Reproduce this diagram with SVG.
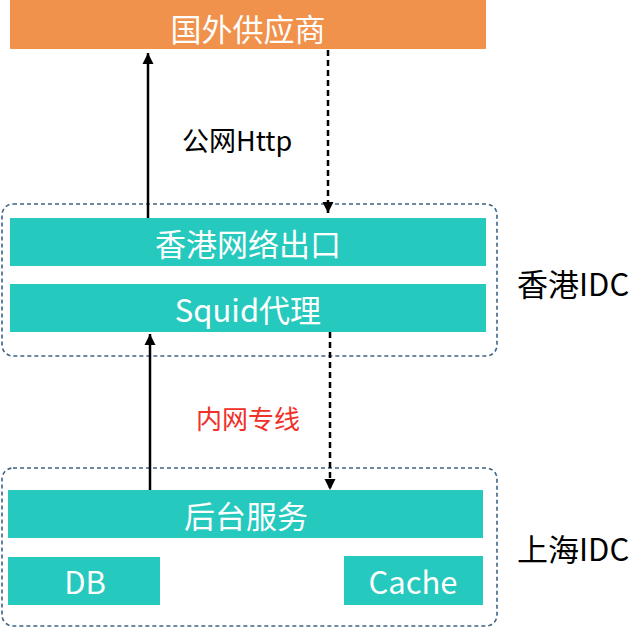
<svg xmlns="http://www.w3.org/2000/svg" width="640" height="628" viewBox="0 0 640 628">
<defs>
<marker id="ah" viewBox="0 0 10 10" refX="10" refY="5" markerWidth="4.4" markerHeight="4.6" orient="auto" markerUnits="strokeWidth"><path d="M0,0 L10,5 L0,10 Z" fill="#000"/></marker>
<style>
.box{fill:#26C9BD}
.org{fill:#F0914C}
.grp{fill:none;stroke:#3E6385;stroke-width:1.6;stroke-dasharray:4 3}
.wt{fill:#fff;font-family:"Noto Sans CJK SC","Noto Sans",sans-serif;font-size:31px;text-anchor:middle;dominant-baseline:central}
.lb{fill:#000;font-family:"Noto Sans CJK SC","Noto Sans",sans-serif;font-size:31px;dominant-baseline:central}
.sol{stroke:#000;stroke-width:2.5;fill:none;marker-end:url(#ah)}
.dsh{stroke:#000;stroke-width:2.5;fill:none;stroke-dasharray:6 4;marker-end:url(#ah)}
</style>
</defs>
<rect width="640" height="628" fill="#fff"/>
<g id="groups">
<rect id="hk-idc" class="grp" x="2" y="204" width="495" height="152" rx="11"/>
<rect id="sh-idc" class="grp" x="2" y="468" width="495" height="158" rx="11"/>
</g>
<g id="supplier"><rect class="org" x="10" y="0" width="476" height="49"/><text class="wt" x="248" y="27">国外供应商</text></g>
<g id="hk-exit"><rect class="box" x="10" y="218" width="476" height="48"/><text class="wt" x="248" y="242">香港网络出口</text></g>
<g id="squid"><rect class="box" x="10" y="284" width="476" height="48"/><text class="wt" x="248" y="308">Squid代理</text></g>
<g id="backend"><rect class="box" x="8" y="490" width="475" height="48"/><text class="wt" x="246" y="514">后台服务</text></g>
<g id="db"><rect class="box" x="8" y="557" width="152" height="48"/><text class="wt" x="85" y="580">DB</text></g>
<g id="cache"><rect class="box" x="344" y="556" width="139" height="49"/><text class="wt" x="413" y="580">Cache</text></g>
<g id="labels">
<text class="lb" x="517" y="282">香港IDC</text>
<text class="lb" x="517" y="547">上海IDC</text>
<text x="182" y="139" style="fill:#000;font-family:'Noto Sans CJK SC',sans-serif;font-size:27px;dominant-baseline:central">公网Http</text>
<text x="196" y="417" style="fill:#F0302A;font-family:'Noto Sans CJK SC',sans-serif;font-size:26px;dominant-baseline:central">内网专线</text>
</g>
<g id="connectors">
<line class="sol" x1="148" y1="218" x2="148" y2="53"/>
<line class="dsh" x1="328" y1="50" x2="328" y2="213"/>
<line class="sol" x1="150" y1="490" x2="150" y2="334"/>
<line class="dsh" x1="330" y1="332" x2="330" y2="490"/>
</g>
</svg>
